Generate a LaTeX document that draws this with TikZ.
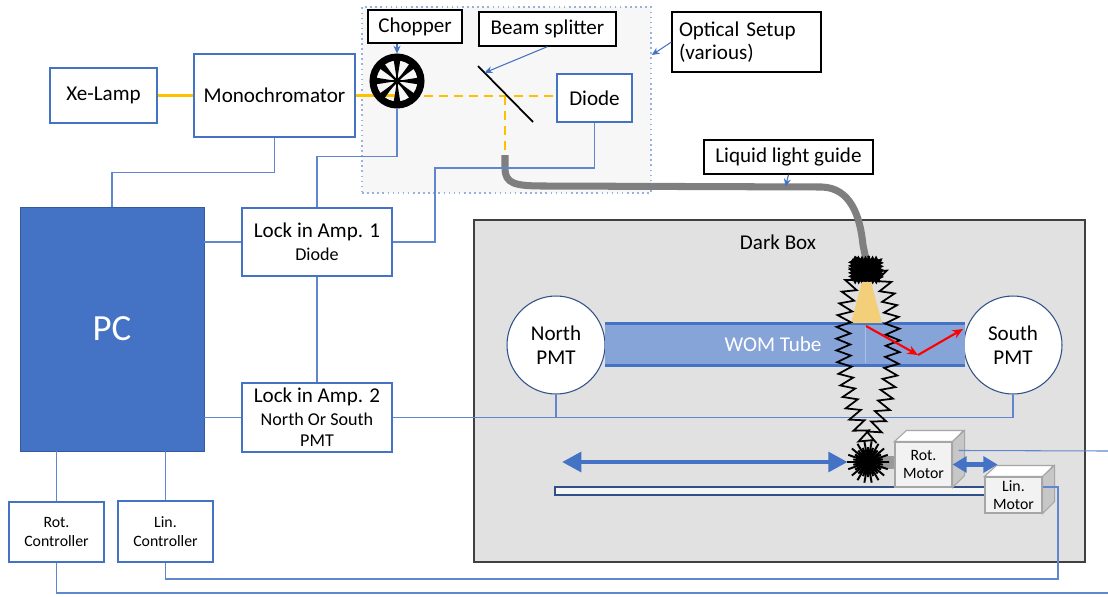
\documentclass[tikz,border=0pt]{standalone}
\usepackage{fontspec}
\setmainfont{Carlito}
\usetikzlibrary{positioning, calc, arrows.meta, decorations.pathmorphing}

\definecolor{accent}{HTML}{4472C4}
\definecolor{beamyel}{HTML}{FFC000}
\definecolor{tubefill}{HTML}{87A4D8}
\definecolor{boxgray}{HTML}{E1E1E1}
\definecolor{guidegray}{HTML}{7F7F7F}
\definecolor{conefill}{HTML}{F2CF78}

\newcommand{\fsbig}{\fontsize{21}{24}\selectfont}
\newcommand{\fsmain}{\fontsize{12}{13.5}\selectfont}
\newcommand{\fsmid}{\fontsize{10.3}{12.5}\selectfont}
\newcommand{\fssmall}{\fontsize{9}{10.5}\selectfont}

\tikzset{
  unit/.style={draw=accent, fill=white, line width=0.7pt, align=center, inner sep=1pt},
  tag/.style={draw=black, fill=white, line width=0.7pt, align=center, inner sep=1pt},
  wire/.style={draw=accent!85, line width=0.6pt},
  beam/.style={draw=beamyel, line width=1.6pt},
  callout/.style={accent, line width=0.6pt, -{Stealth[length=4.5pt,width=4pt]}},
  pmt/.style={circle, draw=accent!70!black, fill=white, minimum size=1.96cm, inner sep=0pt, align=center, line width=0.6pt, font=\fsmain},
  motor/.style={draw=black!35, fill=black!5, align=center, inner sep=0pt, line width=0.6pt, font=\fssmall},
  move/.style={accent, line width=2.8pt, {Triangle[length=11pt,width=11pt]}-{Triangle[length=11pt,width=11pt]}},
}

\begin{document}
\begin{tikzpicture}[x=0.02cm, y=-0.02cm]
  \useasboundingbox (0,0) rectangle (1108,596);

  % frames
  \node[draw=accent!55, dotted, fill=black!3, line width=0.9pt, minimum width=5.78cm, minimum height=3.72cm] (optbox) at (506.5,100) {};
  \node[draw=black!75, fill=boxgray, line width=0.9pt, minimum width=12.22cm, minimum height=6.84cm] (darkbox) at (779.5,391) {};
  \node[font=\fsmain] (darklbl) at (778,242) {Dark Box};

  % light source and optics
  \node[unit, minimum width=2.14cm, minimum height=1.10cm, font=\fsmain] (xelamp) at (103.5,95.5) {Xe-Lamp};
  \node[unit, minimum width=3.22cm, minimum height=1.66cm, font=\fsmain] (mono) at (274.5,95.5) {Monochromator};
  \node[unit, minimum width=1.50cm, minimum height=0.96cm, font=\fsmain] (diode) at (594.5,98) {Diode};
  \node[circle, minimum size=1.08cm, inner sep=0pt] (wheel) at (397,81) {};
  \coordinate (bsa) at (478,66);
  \coordinate (bsb) at (533,122);
  \coordinate (bs) at (505,96);
  \coordinate (guidein) at (505,155);

  \draw[beam] (xelamp) -- (mono);
  \draw[beam] (mono.east) -- (mono.east -| wheel.center);
  \draw[beam, dashed, line width=1.2pt, dash pattern=on 5pt off 3.5pt] (bs -| wheel.east) -- (bs) -- (diode.west |- bs);
  \draw[beam, dashed, line width=1.2pt, dash pattern=on 5pt off 3.5pt] (bs) -- (guidein);

  % chopper wheel
  \foreach \a in {0,45,...,315}
    \fill[black] (wheel.center) -- ($(wheel.center)+(\a-9:23)$) -- ($(wheel.center)+(\a+9:23)$) -- cycle;
  \fill[white!85!black] (wheel.center) circle [radius=4];
  \foreach \a in {0,45,...,315}
    \draw[line width=1.4pt] (wheel.center) -- ++(\a:22);
  \draw[line width=4pt] (wheel.center) circle [radius=24];
  \draw[line width=1pt] (bsa) -- (bsb);

  % labels with pointers
  \node[tag, minimum width=1.88cm, minimum height=0.66cm, font=\fsmain] (chopperlbl) at (415,26.5) {Chopper};
  \node[tag, minimum width=2.74cm, minimum height=0.68cm, font=\fsmain] (splitlbl) at (547.5,29) {Beam splitter};
  \node[tag, minimum width=2.98cm, minimum height=1.20cm, font=\fsmain, align=left, text width=2.7cm] (optlbl) at (746.5,42) {Optical Setup\\(various)};
  \node[tag, minimum width=3.38cm, minimum height=0.68cm, font=\fsmain] (guidelbl) at (788.5,157) {Liquid light guide};
  \draw[callout] (chopperlbl.south -| wheel.north) -- (wheel.north);
  \draw[callout] (splitlbl.south) -- ($(bsa)!0.12!(bsb)$);
  \draw[callout] (optlbl.west) -- ($(optbox.east)+(0,-45)$);

  % fibre into the dark box
  \node[fill=black, minimum width=0.54cm, minimum height=0.40cm, inner sep=0pt] (holder) at (866,270) {};
  \draw[guidegray, line width=4pt] (guidein) -- (505,168) .. controls (505,184) and (515,186) .. (545,186)
    -- (822,187) .. controls (850,188) and (860,215) .. (863,245) -- (holder.north);
  \draw[line width=1.2pt, decorate, decoration={zigzag, segment length=2pt, amplitude=1pt}]
    (holder.north west) rectangle (holder.south east);
  \draw[callout] (guidelbl.south) -- ++(-3,12);

  % WOM tube and PMTs
  \node[pmt] (north) at (556,345) {North\\PMT};
  \node[pmt] (south) at (1013,345) {South\\PMT};
  \node[fill=tubefill, inner sep=0pt, minimum width=7.2cm, minimum height=0.84cm] (tube) at (785,344.5) {};
  \draw[accent, line width=1.7pt] (tube.north west) -- (tube.north east);
  \draw[accent, line width=1.7pt] (tube.south west) -- (tube.south east);
  \draw[accent!45, line width=0.5pt] (865,326) -- (865,363);
  \node[text=white, font=\fsmain] (tubelbl) at (773,344) {WOM Tube};
  \fill[conefill] (862,282) -- (871,282) -- (882,323) -- (851,323) -- cycle;

  % translation stage
  \node[draw=accent!70!black, fill=black!4, line width=1pt, minimum width=8.6cm, minimum height=0.16cm, inner sep=0pt] (rail) at (770,491) {};
  \node[motor, minimum width=1.14cm, minimum height=0.90cm] (rotmot) at (923.5,464.5) {Rot.\\Motor};
  \filldraw[draw=black!35, fill=white, line width=0.6pt] (rotmot.north west) -- ++(12,-11) -- ++(57,0) -- (rotmot.north east) -- cycle;
  \filldraw[draw=black!35, fill=black!22, line width=0.6pt] (rotmot.north east) -- ++(12,-11) -- ++(0,45) -- (rotmot.south east) -- cycle;
  \node[motor, minimum width=1.14cm, minimum height=0.72cm] (linmot) at (1013.5,495) {Lin.\\Motor};
  \filldraw[draw=black!35, fill=white, line width=0.6pt] (linmot.north west) -- ++(12,-11) -- ++(57,0) -- (linmot.north east) -- cycle;
  \filldraw[draw=black!35, fill=black!22, line width=0.6pt] (linmot.north east) -- ++(12,-11) -- ++(0,36) -- (linmot.south east) -- cycle;
  \node[circle, minimum size=0.8cm, inner sep=0pt] (burst) at (868,462) {};
  \fill[black!40] (878,456) rectangle (rotmot.west |- 0,469);
  \foreach \a in {0,20,...,340}
    \draw[line width=1.1pt] (burst.center) -- ++(\a:21) (burst.center) -- ++(\a+10:15);
  \fill (burst.center) circle [radius=7];
  \coordinate (slide) at (562,462);
  \draw[move] (slide) -- (burst.west);
  \draw[move, {Triangle[length=8pt,width=9pt]}-{Triangle[length=8pt,width=9pt]}] (rotmot.east) -- ++(45,0);

  % electronics
  \node[fill=accent, draw=accent!80!black, minimum width=3.68cm, minimum height=4.88cm, text=white, font=\fsbig] (pc) at (112,329) {PC};
  \node[unit, minimum width=3.00cm, minimum height=1.36cm] (lia1) at (317,242) {{\fsmain Lock in Amp. 1}\\[1pt]{\fsmid Diode}};
  \node[unit, minimum width=3.00cm, minimum height=1.38cm] (lia2) at (317,417.5) {{\fsmain Lock in Amp. 2}\\[1pt]{\fsmid North Or South}\\{\fsmid PMT}};
  \node[unit, minimum width=1.90cm, minimum height=1.20cm, font=\fssmall] (rotctrl) at (56.5,532) {Rot.\\Controller};
  \node[unit, minimum width=1.90cm, minimum height=1.22cm, font=\fssmall] (linctrl) at (165.5,531.5) {Lin.\\Controller};
  \coordinate (dtap) at (435,168);
  \coordinate (rotout) at (1108,593);
  \coordinate (linturn) at (1058,579);
  \coordinate (motout) at (1108,451);

  \draw[wire] (mono.south) -- ++(0,35) -| (pc.north);
  \draw[wire] (lia1.west) -- (lia1.west -| pc.east);
  \draw[wire] (lia2.west) -- (lia2.west -| pc.east);
  \draw[wire] (lia1.north) -- ++(0,-51) -| (wheel.south);
  \draw[wire] (lia1.east) -| (dtap) -| (diode.south);
  \draw[wire] (lia1.south) -- (lia2.north);
  \draw[wire] (lia2.east) -| (south.south);
  \draw[wire] (north.south) -- (north.south |- lia2.east);
  \draw[wire] (pc.south -| rotctrl.north) -- (rotctrl.north);
  \draw[wire] (pc.south -| linctrl.north) -- (linctrl.north);
  \draw[wire] (rotctrl.south) |- (rotout);
  \draw[wire] (linctrl.south) |- (linturn) |- ($(linmot.east)+(0,-8)$);
  \draw[wire] ($(rotmot.north east)+(6,9)$) -- (motout);

  % jagged envelope around the source holder
  \draw[line width=1pt, decorate, decoration={zigzag, segment length=6.5pt, amplitude=4pt}]
    (868,256) .. controls (836,285) and (834,385) .. (868,444)
              .. controls (902,385) and (900,285) .. (868,256);

  % reflected ray
  \coordinate (r0) at (866,326);
  \coordinate (r1) at (918,355);
  \coordinate (r2) at (963,329);
  \draw[red, line width=1.2pt, -{Stealth[length=6pt,width=5pt]}] (r0) -- (r1);
  \draw[red, line width=1.2pt, -{Stealth[length=6pt,width=5pt]}] (r1) -- (r2);
\end{tikzpicture}
\end{document}
